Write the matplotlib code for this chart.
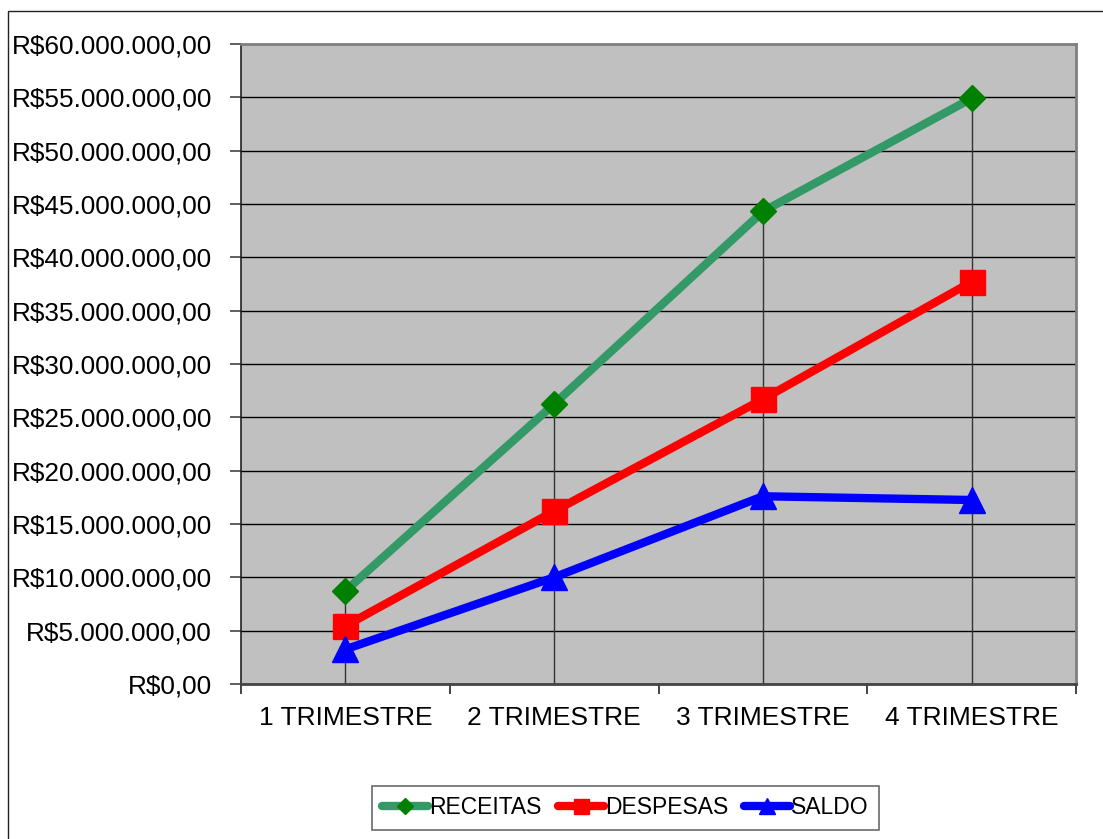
import matplotlib
matplotlib.use("Agg")
import matplotlib.pyplot as plt
from matplotlib.patches import Rectangle
from matplotlib.ticker import FuncFormatter, MultipleLocator, FixedLocator

plt.rcParams["font.family"] = ["Liberation Sans", "DejaVu Sans"]

categories = ["1 TRIMESTRE", "2 TRIMESTRE", "3 TRIMESTRE", "4 TRIMESTRE"]
receitas = [8.72e6, 26.25e6, 44.3e6, 54.9e6]
despesas = [5.45e6, 16.2e6, 26.7e6, 37.7e6]
saldo = [3.25e6, 10.0e6, 17.6e6, 17.25e6]


def brl(v, pos=None):
    if v == 0:
        return "R$0,00"
    s = f"{int(round(v)):,}".replace(",", ".")
    return f"R${s},00"


fig = plt.figure(figsize=(11.03, 8.39), dpi=100)
fig.patch.set_facecolor("white")
# outer chart border (runs off right and bottom)
fig.add_artist(Rectangle((8 / 1103, -0.05), 1.2, 1 - 11 / 839 + 0.05,
                         transform=fig.transFigure, fill=False,
                         edgecolor="#222222", linewidth=1.0))

ax = fig.add_axes([241 / 1103, 1 - 684 / 839, 835 / 1103, 640 / 839])
ax.set_facecolor("#C0C0C0")

x = list(range(len(categories)))
tops = [max(a, b, c) for a, b, c in zip(receitas, despesas, saldo)]
ax.vlines(x, 0, tops, color="#333333", linewidth=1.0, zorder=2)

ax.plot(x, receitas, color="#339966", linewidth=6, marker="D", markersize=13,
        markerfacecolor="#008000", markeredgecolor="#008000", label="RECEITAS",
        zorder=3, solid_capstyle="round")
ax.plot(x, despesas, color="#FF0000", linewidth=6, marker="s", markersize=18,
        markerfacecolor="#FF0000", markeredgecolor="#FF0000", label="DESPESAS",
        zorder=4, solid_capstyle="round")
ax.plot(x, saldo, color="#0000FF", linewidth=6, marker="^", markersize=19,
        markerfacecolor="#0000FF", markeredgecolor="#0000FF", label="SALDO",
        zorder=5, solid_capstyle="round")

ax.set_xlim(-0.5, 3.5)
ax.set_ylim(0, 60e6)
ax.yaxis.set_major_locator(MultipleLocator(5e6))
ax.yaxis.set_major_formatter(FuncFormatter(brl))
ax.grid(axis="y", color="black", linewidth=1.0)
ax.set_axisbelow(True)

ax.xaxis.set_major_locator(FixedLocator([-0.5, 0.5, 1.5, 2.5, 3.5]))
ax.xaxis.set_major_formatter(FuncFormatter(lambda v, p: ""))
ax.xaxis.set_minor_locator(FixedLocator(x))
ax.set_xticklabels(categories, minor=True)
ax.tick_params(axis="x", which="major", direction="out", length=7, width=1.2, color="#222222")
ax.tick_params(axis="x", which="minor", length=0, pad=16, labelsize=19)
ax.tick_params(axis="y", direction="out", length=8, width=1.2, color="#444444",
               pad=13, labelsize=18.8)

for side in ["top", "right"]:
    ax.spines[side].set_color("#808080")
    ax.spines[side].set_linewidth(2)
ax.spines["bottom"].set_color("#444444")
ax.spines["bottom"].set_linewidth(2)
ax.spines["left"].set_color("#222222")
ax.spines["left"].set_linewidth(1.2)

leg = fig.legend(loc="center", bbox_to_anchor=(625.5 / 1103, 1 - 808 / 839), ncol=3,
                 fontsize=16.5, frameon=True, fancybox=False, edgecolor="#444444",
                 handlelength=2.0, handletextpad=0.05, columnspacing=0.7,
                 markerscale=0.6, borderpad=0.45, borderaxespad=0)
leg.get_frame().set_linewidth(1.2)

fig.savefig("out.png", dpi=100, facecolor="white")
